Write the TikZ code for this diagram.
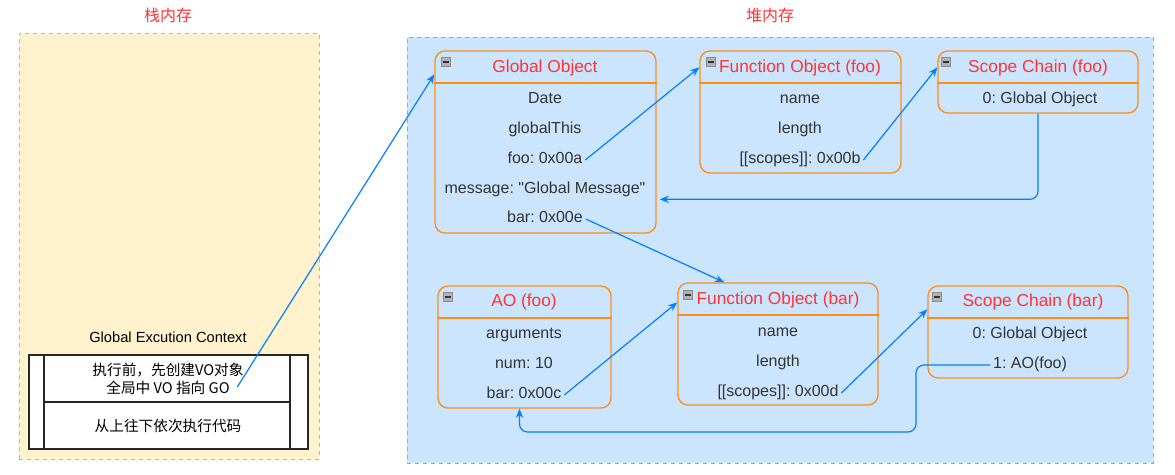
\documentclass[tikz,border=0pt]{standalone}
\usepackage{fontspec}
\setmainfont{Liberation Sans}
\newfontfamily\cjk{Noto Sans CJK SC}
\usetikzlibrary{arrows.meta,fit,calc}
\frenchspacing
\newcommand\straightdq{\XeTeXglyph\XeTeXcharglyph"22\relax}
\definecolor{stackfill}{HTML}{FFF2CC}
\definecolor{stackline}{HTML}{D6B656}
\definecolor{heapfill}{HTML}{CCE5FF}
\definecolor{heapline}{HTML}{66B2FF}
\definecolor{objline}{HTML}{FF8C1A}
\definecolor{titlered}{HTML}{FF3333}
\definecolor{linkblue}{HTML}{007FFF}
\definecolor{txt}{HTML}{333333}
\tikzset{
  region/.style={draw, dashed, line width=0.75pt, inner sep=0pt},
  obj/.style={draw=objline, line width=1pt, rounded corners=7.5pt, inner sep=0pt},
  hline/.style={draw=objline, line width=1pt},
  objtitle/.style={text=titlered, font=\fontsize{13}{15}\selectfont, inner sep=1pt},
  item/.style={text=txt, font=\fontsize{12}{14}\selectfont, inner sep=2pt, text height=0.72em, text depth=0.22em},
  headlbl/.style={text=titlered, font=\cjk\fontsize{12}{14}\selectfont},
  ctxtext/.style={text=black, font=\cjk\fontsize{11}{13}\selectfont, inner sep=1pt},
  tblline/.style={draw=black!85, line width=0.9pt},
  icon/.style={draw=black!45, fill=black!30, minimum size=7pt, inner sep=0pt,
    path picture={\draw[black!80, line width=1.1pt]
      ($(path picture bounding box.west)!0.18!(path picture bounding box.east)$) --
      ($(path picture bounding box.west)!0.82!(path picture bounding box.east)$);}},
  link/.style={draw=linkblue, line width=0.9pt, -{Stealth[length=7pt,width=5.5pt]}},
}
\begin{document}
\begin{tikzpicture}[x=0.75pt,y=-0.75pt]
\useasboundingbox (0,0) rectangle (1175,475);
% regions
\node[region, draw=stackline, fill=stackfill, fit={(19,33) (319,459)}] (stack) {};
\node[region, draw=heapline, fill=heapfill, fit={(407,37) (1153,463)}] (heap) {};
\node[headlbl] (stacklbl) at (168,15) {栈内存};
\node[headlbl] (heaplbl) at (770,15) {堆内存};

% stack contents
\node[font=\fontsize{11}{13}\selectfont, text=black] (ctxlbl) at (168,337) {Global Excution Context};
\node[tblline, fill=white, fit={(29,355) (308,449)}, inner sep=0pt] (tbl) {};
\node[tblline, fit={(44,355) (290,402)}, inner sep=0pt] (row1) {};
\node[tblline, fit={(44,402) (290,449)}, inner sep=0pt] (row2) {};
\node[ctxtext] (ctx1) at (168,370) {执行前，先创建VO对象};
\node[ctxtext] (ctx2) at (168,388) {全局中 VO 指向 GO};
\node[ctxtext] (ctx3) at (168,426) {从上往下依次执行代码};

% Global Object
\node[obj, fit={(435,51) (656,233)}] (go) {};
\draw[hline] (go.west |- 0,83) -- (go.east |- 0,83);
\node[icon] (goi) at (446,62) {};
\node[objtitle] (got) at (545,68) {Global Object};
\node[item] (godate) at (545,100) {Date};
\node[item] (gothis) at (545,130) {globalThis};
\node[item] (gofoo) at (545,160) {foo: 0x00a};
\node[item] (gomsg) at (545,190) {message: \straightdq Global Message\straightdq};
\node[item] (gobar) at (545,219) {bar: 0x00e};

% Function Object (foo)
\node[obj, fit={(700,51) (901,173)}] (fofoo) {};
\draw[hline] (fofoo.west |- 0,83) -- (fofoo.east |- 0,83);
\node[icon] (fofooi) at (711,62) {};
\node[objtitle] (fofoot) at (800,68) {Function Object (foo)};
\node[item] (fofooname) at (800,100) {name};
\node[item] (fofoolen) at (800,130) {length};
\node[item] (fofoosc) at (800,160) {[[scopes]]: 0x00b};

% Scope Chain (foo)
\node[obj, fit={(938,51) (1138,113)}] (scfoo) {};
\draw[hline] (scfoo.west |- 0,83) -- (scfoo.east |- 0,83);
\node[icon] (scfooi) at (946,62) {};
\node[objtitle] (scfoot) at (1038,68) {Scope Chain (foo)};
\node[item] (scfoo0) at (1040,100) {0: Global Object};

% AO (foo)
\node[obj, fit={(438,286) (611,408)}] (ao) {};
\draw[hline] (ao.west |- 0,318) -- (ao.east |- 0,318);
\node[icon] (aoi) at (448,297) {};
\node[objtitle] (aot) at (524,302) {AO (foo)};
\node[item] (aoargs) at (524,335) {arguments};
\node[item] (aonum) at (524,365) {num: 10};
\node[item] (aobar) at (524,395) {bar: 0x00c};

% Function Object (bar)
\node[obj, fit={(678,283) (878,405)}] (fobar) {};
\draw[hline] (fobar.west |- 0,315) -- (fobar.east |- 0,315);
\node[icon] (fobari) at (688,295) {};
\node[objtitle] (fobart) at (778,300) {Function Object (bar)};
\node[item] (fobarname) at (778,333) {name};
\node[item] (fobarlen) at (778,363) {length};
\node[item] (fobarsc) at (778,393) {[[scopes]]: 0x00d};

% Scope Chain (bar)
\node[obj, fit={(928,286) (1128,378)}] (scbar) {};
\draw[hline] (scbar.west |- 0,318) -- (scbar.east |- 0,318);
\node[icon] (scbari) at (937,297) {};
\node[objtitle] (scbart) at (1033,302) {Scope Chain (bar)};
\node[item] (scbar0) at (1030,335) {0: Global Object};
\node[item] (scbar1) at (1030,365) {1: AO(foo)};

% connectors
\draw[link] (ctx2.east) ++(6,-1) -- ($(go.north west)+(0,24)$);
\draw[link] (gofoo.east) -- ($(fofoo.north west)+(0,17)$);
\draw[link] (fofoosc.east) -- ($(scfoo.north west)+(0,17)$);
\draw[link, rounded corners=6pt] (scfoo.south) |- ($(go.north east)+(3,149)$);
\draw[link] (gobar.east) -- ($(fobar.north west)+(47,0)$);
\draw[link] (aobar.east) -- ($(fobar.north west)+(0,20)$);
\draw[link] (fobarsc.east) -- ($(scbar.north west)+(0,24)$);
\coordinate (bend) at (916,432);
\draw[link, rounded corners=6pt] (scbar1.west) -| (bend) -| ($(ao.south)+(-5,0)$);
\end{tikzpicture}
\end{document}
